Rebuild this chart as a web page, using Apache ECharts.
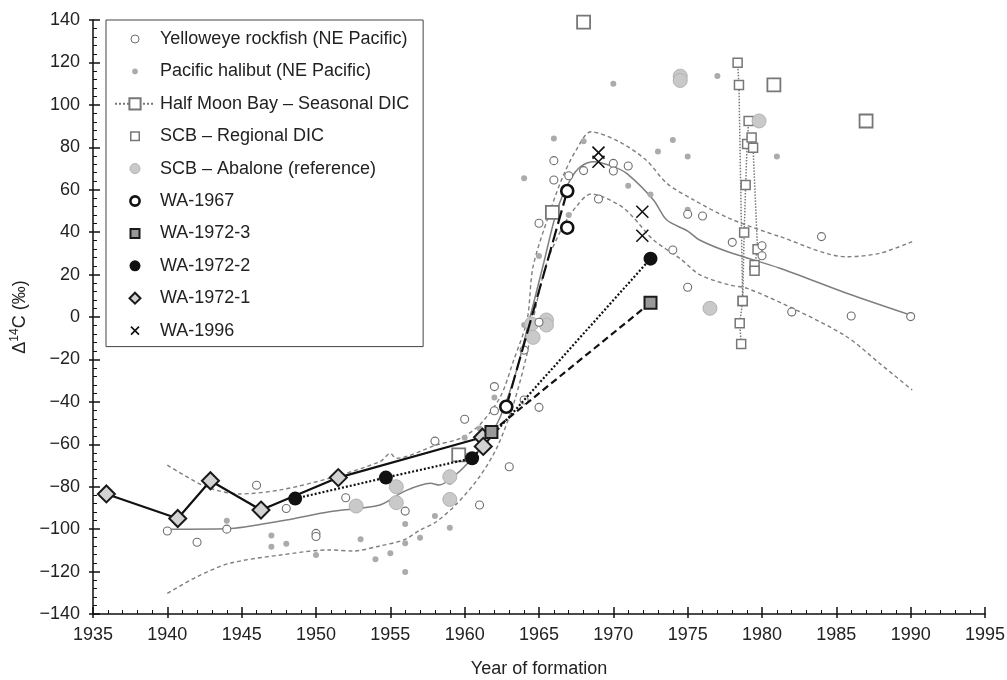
<!DOCTYPE html>
<html><head><meta charset="utf-8">
<script src="https://cdn.jsdelivr.net/npm/echarts@6/dist/echarts.min.js"></script>
<style>html,body{margin:0;padding:0;background:#fff}#c{width:1007px;height:680px}</style>
</head><body><div id="c"></div>
<script>
const yelloweye = [[1940,-100.9],[1942,-106.2],[1944,-100],[1946,-79.3],[1948,-90.3],[1950,-102],[1950,-103.5],[1952,-85.2],[1956,-91.5],[1958,-58.5],[1960,-48.2],[1961,-88.6],[1962,-32.8],[1962,-44.2],[1963,-70.6],[1964,-15.6],[1964,-39.1],[1965,-42.6],[1965,-2.5],[1965,44.2],[1966,73.7],[1966,64.6],[1967,66.6],[1968,69],[1969,55.6],[1970,72.4],[1970,68.8],[1971,71.2],[1974,31.6],[1975,48.4],[1975,14],[1976,47.6],[1978,35.2],[1980,33.6],[1980,28.9],[1982,2.4],[1984,37.9],[1986,0.5],[1990,0.2]];
const halibut = [[1944,-96],[1947,-103],[1947,-108.3],[1948,-106.9],[1950,-112.2],[1953,-104.8],[1954,-114.2],[1955,-111.4],[1956,-97.6],[1956,-106.7],[1956,-120.2],[1957,-104],[1958,-93.8],[1959,-99.3],[1959,-77.8],[1960,-56.9],[1961,-52.5],[1962,-38],[1964,-3.8],[1964,65.4],[1965,28.8],[1966,84.2],[1967,48.1],[1968,82.9],[1970,110],[1971,61.9],[1972.5,57.8],[1973,78],[1974,83.4],[1975,75.6],[1975,50.5],[1977,113.6],[1981,75.6]];
const hmbA = [[1978.36,119.8],[1978.45,109.4],[1978.7,7.5],[1978.5,-3],[1978.6,-12.7]];
const hmbB = [[1979.1,92.4],[1979.0,81.5],[1978.9,62.2],[1978.8,39.8],[1978.7,7.5]];
const hmbC = [[1979.3,84.6],[1979.4,79.8],[1979.7,31.9],[1979.5,24.5],[1979.5,21.8]];
const scbRegional = [[1968.0,139],[1980.8,109.4],[1987.0,92.4],[1965.9,49.3],[1959.6,-65]];
const scbAbalone = [[1952.7,-89.1],[1955.4,-80],[1955.4,-87.5],[1959,-75.3],[1959,-86],[1964.5,-3.3],[1965.5,-1.4],[1965.5,-3.8],[1964.6,-9.6],[1976.5,4.1],[1979.8,92.4],[1974.5,113.5],[1974.5,111.5]];
const wa1967Line = [[1962.8,-42.3],[1966.9,59.4]];
const wa1967Extra = [[1966.9,42.1]];
const wa19723 = [[1961.8,-54.2],[1972.5,6.7]];
const wa19722 = [[1948.6,-85.6],[1954.7,-75.7],[1960.5,-66.6],[1972.5,27.5]];
const wa19721 = [[1935.9,-83.4],[1940.7,-95],[1942.9,-77.2],[1946.3,-91],[1951.5,-75.7],[1961.2,-56.7],[1961.25,-61]];
const wa1996 = [[1969.0,77.5],[1969.0,73.2],[1971.95,49.6],[1971.95,38.3]];
const fitMid = [[1940,-100],[1944,-99.8],[1948,-95.7],[1950.9,-91.8],[1954.3,-88.6],[1955.9,-82.3],[1957.7,-78.4],[1958.3,-79.2],[1959.5,-73.7],[1960.4,-67.4],[1961.5,-58],[1962.4,-47],[1963.5,-25],[1964.4,0],[1965.3,25],[1966.2,50],[1967.1,64.6],[1967.8,70.9],[1968.7,73.2],[1970,70.9],[1970.9,67.7],[1972.7,55.2],[1973.6,45.7],[1975.0,40.5],[1975.8,36.3],[1977.8,30.5],[1981.2,23],[1985.7,11.2],[1990,0.9]];
const fitUpper = [[1940,-69.8],[1942.6,-80],[1944.9,-83.4],[1947.6,-81.5],[1950.9,-76],[1954.3,-68.2],[1955,-64.3],[1955.4,-66.6],[1958.1,-60.3],[1959.7,-57.2],[1961,-50.9],[1962.4,-37.6],[1963.3,-20.3],[1964.2,-1.4],[1964.6,23.7],[1965.7,48.9],[1966.6,66.1],[1967.5,78.7],[1968.5,87.3],[1970.4,82.6],[1972.2,74],[1973.6,63],[1975.4,55.2],[1977.8,46.5],[1981.2,37.9],[1985.7,28.4],[1987.9,30],[1990.1,35.5]];
const fitLower = [[1940,-130.3],[1942,-122.4],[1944.2,-116.1],[1947.6,-112.2],[1950.9,-109.8],[1952.5,-110.3],[1954.3,-107.9],[1955.9,-105.1],[1957,-100.4],[1958.1,-96.5],[1959.5,-87.8],[1961,-75.3],[1962.2,-61.1],[1963.3,-40.7],[1964.2,-17.1],[1964.6,-1.4],[1965.5,25],[1966.6,42.6],[1967.5,52],[1968.5,58],[1970.4,52.8],[1971.3,47.3],[1972.7,36.3],[1974.5,27.5],[1975.8,20],[1977.8,15.1],[1979,13.5],[1982.3,3.3],[1985.7,-9.3],[1987.9,-21.8],[1990.1,-34.4]];
const legendNames = ['Yelloweye rockfish (NE Pacific)','Pacific halibut (NE Pacific)','Half Moon Bay \u2013 Seasonal DIC','SCB \u2013 Regional DIC','SCB \u2013 Abalone (reference)','WA-1967','WA-1972-3','WA-1972-2','WA-1972-1','WA-1996'];

const FONT = "'Liberation Sans', Arial, Helvetica, sans-serif";
function circ(r){return `path://M0,0M14,14M${7-r},7A${r},${r},0,1,1,${7+r},7A${r},${r},0,1,1,${7-r},7Z`;}
function sq(s){const a=(14-s)/2,b=a+s;return `path://M0,0M14,14M${a},${a}L${b},${a}L${b},${b}L${a},${b}Z`;}
function dia(r){return `path://M0,0M14,14M7,${7-r}L${7+r},7L7,${7+r}L${7-r},7Z`;}
function crs(r){return `path://M0,0M14,14M${7-r},${7-r}L${7+r},${7+r}M${7+r},${7-r}L${7-r},${7+r}`;}
const CROSS = 'path://M0,0L10,10M10,0L0,10';
const minus = v => (v < 0 ? '\u2212' + Math.abs(v) : String(v));

const chart = echarts.init(document.getElementById('c'), null, {renderer:'canvas'});
const curveStyle = {color:'#7f7f7f', width:1.5};
const outerTicks = {axisLine:{show:false,onZero:false},axisLabel:{show:false},splitLine:{show:false},minorTick:{show:false},
  axisTick:{show:true,inside:false,length:4,lineStyle:{color:'#111',width:1.5}}};
chart.setOption({
  animation:false,
  backgroundColor:'#fff',
  grid:{left:93,right:22,top:20,bottom:66,containLabel:false,outerBoundsMode:'none'},
  xAxis:[{type:'value',min:1935,max:1995,interval:5,
    name:'Year of formation',nameLocation:'middle',nameGap:46,
    nameTextStyle:{fontSize:18,color:'#222',fontFamily:FONT},
    axisLine:{show:true,onZero:false,lineStyle:{color:'#111',width:1.5}},
    axisTick:{show:true,inside:true,length:7,lineStyle:{color:'#111',width:1.5}},
    minorTick:{show:true,splitNumber:5,length:4,lineStyle:{color:'#111',width:1}},
    splitLine:{show:false},
    axisLabel:{fontSize:18,color:'#222',fontFamily:FONT,margin:12,formatter:v=>String(v)}},
    Object.assign({type:'value',min:1935,max:1995,interval:5,position:'bottom'},outerTicks)],
  yAxis:[{type:'value',min:-140,max:140,interval:20,
    name:'{a|\u0394}{s|14}{a|C (\u2030)}',nameLocation:'middle',nameGap:53,nameRotate:90,
    nameTextStyle:{color:'#222',fontFamily:FONT,rich:{a:{fontSize:18,color:'#222',fontFamily:FONT},s:{fontSize:12,color:'#222',fontFamily:FONT,padding:[0,0,9,0]}}},
    axisLine:{show:true,onZero:false,lineStyle:{color:'#111',width:1.5}},
    axisTick:{show:true,inside:true,length:7,lineStyle:{color:'#111',width:1.5}},
    minorTick:{show:true,splitNumber:5,length:4,lineStyle:{color:'#111',width:1}},
    splitLine:{show:false},
    axisLabel:{fontSize:18,color:'#222',fontFamily:FONT,margin:13,formatter:minus}},
    Object.assign({type:'value',min:-140,max:140,interval:20,position:'left'},outerTicks)],
  legend:{orient:'vertical',left:106,top:20,padding:[10,14,7,8],itemGap:14.4,itemWidth:40,itemHeight:14,
    borderColor:'#444',borderWidth:1,backgroundColor:'#fff',selectedMode:false,symbolKeepAspect:true,
    textStyle:{fontSize:18,color:'#222',fontFamily:FONT},
    data:[
      {name:legendNames[0],icon:circ(4),itemStyle:{borderWidth:1}},
      {name:legendNames[1],icon:circ(2.8),itemStyle:{borderWidth:0}},
      {name:legendNames[2]},
      {name:legendNames[3],icon:sq(8.5),itemStyle:{borderWidth:1.5}},
      {name:legendNames[4],icon:circ(5),itemStyle:{borderWidth:1}},
      {name:legendNames[5],icon:circ(4.6),itemStyle:{borderWidth:2.6}},
      {name:legendNames[6],icon:sq(9),itemStyle:{borderWidth:2}},
      {name:legendNames[7],icon:circ(5.5),itemStyle:{borderWidth:0}},
      {name:legendNames[8],icon:dia(5.5),itemStyle:{borderWidth:2}},
      {name:legendNames[9],icon:crs(4),itemStyle:{borderWidth:1.6}}
    ]},
  series:[
    {name:'fitUpper',type:'line',data:fitUpper,showSymbol:false,symbol:'none',smooth:0.3,z:1,lineStyle:Object.assign({},curveStyle,{type:[4,3],width:1.4}),silent:true},
    {name:'fitLower',type:'line',data:fitLower,showSymbol:false,symbol:'none',smooth:0.3,z:1,lineStyle:Object.assign({},curveStyle,{type:[4,3],width:1.4}),silent:true},
    {name:'fitMid',type:'line',data:fitMid,showSymbol:false,symbol:'none',smooth:0.3,z:1,lineStyle:curveStyle,silent:true},
    {name:legendNames[2],type:'line',data:hmbA,symbol:'rect',symbolSize:9,z:2,lineStyle:{color:'#777',width:1.5,type:'dotted'},itemStyle:{color:'#fff',borderColor:'#777',borderWidth:1.5}},
    {name:legendNames[2],type:'line',data:hmbB,symbol:'rect',symbolSize:9,z:2,lineStyle:{color:'#777',width:1.5,type:'dotted'},itemStyle:{color:'#fff',borderColor:'#777',borderWidth:1.5}},
    {name:legendNames[2],type:'line',data:hmbC,symbol:'rect',symbolSize:9,z:2,lineStyle:{color:'#777',width:1.5,type:'dotted'},itemStyle:{color:'#fff',borderColor:'#777',borderWidth:1.5}},
    {name:legendNames[1],type:'scatter',data:halibut,symbol:'circle',symbolSize:6,z:2,itemStyle:{color:'#ababab',borderWidth:0,opacity:1}},
    {name:legendNames[4],type:'scatter',data:scbAbalone,symbol:'circle',symbolSize:14,z:2,itemStyle:{color:'#c9c9c9',borderColor:'#b3b3b3',borderWidth:1,opacity:1}},
    {name:legendNames[0],type:'scatter',data:yelloweye,symbol:'circle',symbolSize:8,z:2,itemStyle:{color:'#fff',borderColor:'#6e6e6e',borderWidth:1.1,opacity:1}},
    {name:legendNames[3],type:'scatter',data:scbRegional,symbol:'rect',symbolSize:13,z:2,itemStyle:{color:'#fff',borderColor:'#777',borderWidth:1.8,opacity:1}},
    {name:legendNames[8],type:'line',data:wa19721,symbol:'diamond',symbolSize:17,z:3,lineStyle:{color:'#111',width:2.2,type:'solid'},itemStyle:{color:'#d3d3d3',borderColor:'#1a1a1a',borderWidth:2}},
    {name:legendNames[7],type:'line',data:wa19722,symbol:'circle',symbolSize:14,z:3,lineStyle:{color:'#111',width:2.2,type:[2,2]},itemStyle:{color:'#111',borderColor:'#111',borderWidth:0}},
    {name:legendNames[6],type:'line',data:wa19723,symbol:'rect',symbolSize:12,z:3,lineStyle:{color:'#111',width:2.2,type:[7,4]},itemStyle:{color:'#999',borderColor:'#1a1a1a',borderWidth:2}},
    {name:legendNames[5],type:'line',data:wa1967Line,symbol:'circle',symbolSize:12,z:3,lineStyle:{color:'#111',width:2.2,type:[14,5]},itemStyle:{color:'#fff',borderColor:'#111',borderWidth:2.6}},
    {name:legendNames[5],type:'scatter',data:wa1967Extra,symbol:'circle',symbolSize:12,z:3,itemStyle:{color:'#fff',borderColor:'#111',borderWidth:2.6,opacity:1}},
    {name:legendNames[9],type:'scatter',data:wa1996,symbol:CROSS,symbolSize:12,z:3,itemStyle:{color:'rgba(0,0,0,0)',borderColor:'#111',borderWidth:1.6,opacity:1}}
  ]
});
</script></body></html>
